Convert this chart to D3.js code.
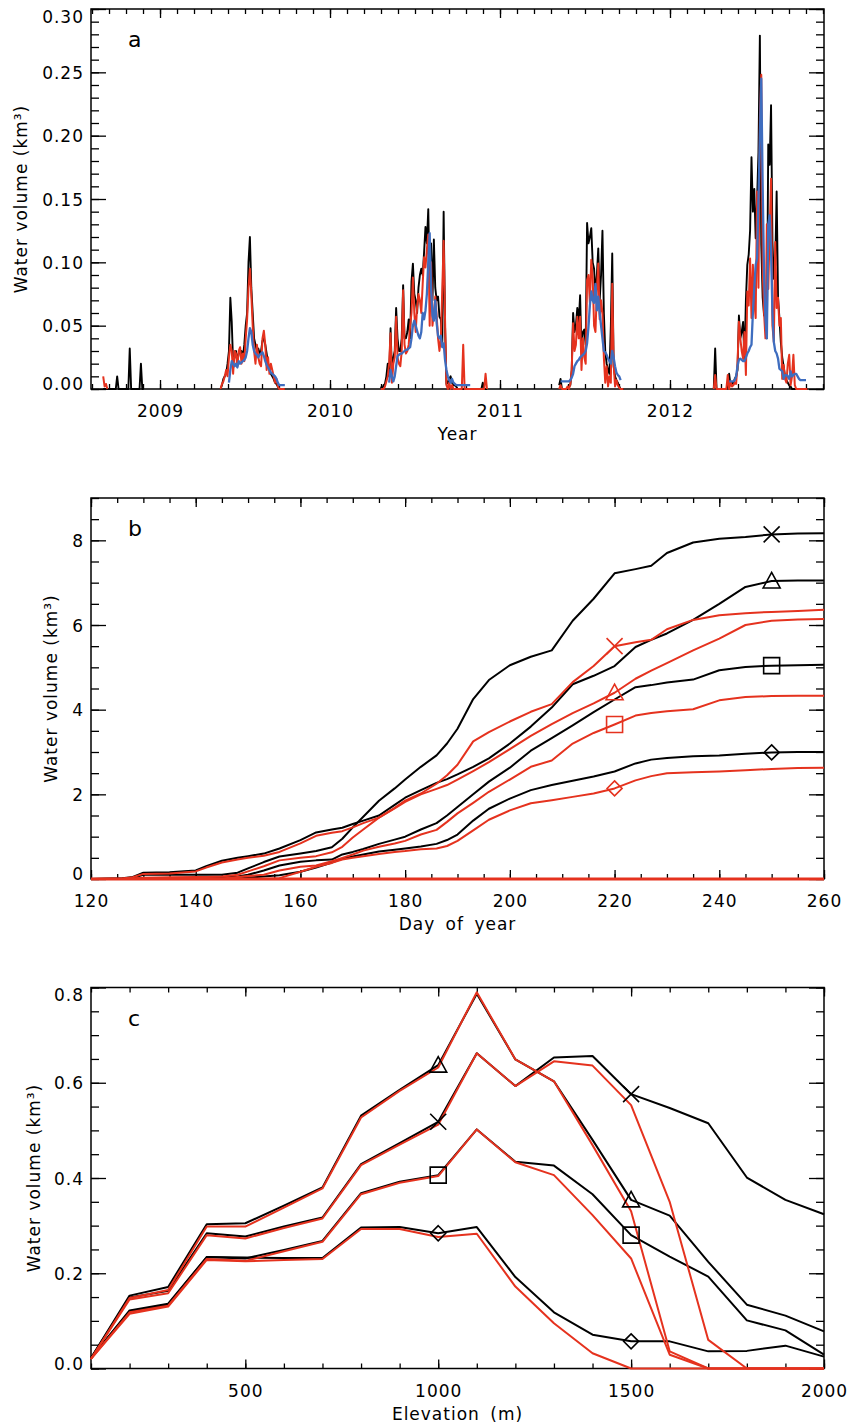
<!DOCTYPE html>
<html>
<head>
<meta charset="utf-8">
<script src="https://d3js.org/d3.v7.min.js"></script>
<style>
  body { margin: 0; background: #fff; }
  svg { display: block; }
  text { font-family: "DejaVu Sans", sans-serif; fill: #000; }
</style>
</head>
<body>
<svg width="847" height="1425"></svg>
<script>
// ---------- panel a: daily water volume, sampled every 3 days ----------
const seasonYear  = [2008, 2009, 2010, 2011, 2012];
const seasonStart = [244, 131, 110, 128, 95];   // day of year of the first sample
const sampleStep  = 3;

const black2008 = [0,0,0,0,0,0,0,0,0,0,0.01,0,0,0,0,0,0,0,0,0.032,0,0,0,0,0,0,0,0.02,0,0];
const red2008   = [0.01,0.002,0.004,0];
const blue2008  = [];

const black2009 = [0,0.003,0.008,0.01,0.012,0.02,0.03,0.072,0.053,0.02,
  0.025,0.03,0.022,0.028,0.03,0.03,0.025,0.035,0.05,0.06,
  0.1,0.12,0.08,0.06,0.04,0.035,0.03,0.032,0.028,0.03,
  0.038,0.04,0.035,0.028,0.02,0.015,0.012,0.01,0.008,0.005,
  0.004,0.002,0,0,0,0,0];
const red2009 = [0,0.004,0.006,0.01,0.015,0.01,0.025,0.035,0.03,0.012,
  0.03,0.028,0.018,0.03,0.033,0.02,0.028,0.022,0.04,0.055,
  0.08,0.095,0.075,0.05,0.03,0.02,0.035,0.025,0.02,0.018,
  0.04,0.046,0.035,0.015,0.025,0.012,0.02,0.015,0.01,0.005,
  0.008,0.002,0,0,0,0,0];
const blue2009 = [null,null,null,null,null,null,
  0.005,0.015,0.022,0.02,0.018,0.02,0.017,0.022,0.02,0.021,
  0.022,0.023,0.025,0.03,0.04,0.048,0.045,0.035,0.03,0.028,
  0.027,0.025,0.027,0.028,0.029,0.026,0.022,0.019,0.017,0.015,
  0.013,0.012,0.011,0.01,0.008,0.005,0.003,0.003,0.003,0.003,0.003];

const black2010 = [0.002,0,0.003,0.004,0.01,0.02,0.01,0.048,0.012,0.025,
  0.03,0.064,0.04,0.03,0.03,0.04,0.082,0.04,0.04,0.045,
  0.055,0.04,0.085,0.099,0.075,0.07,0.06,0.08,0.09,0.095,
  0.09,0.108,0.128,0.115,0.142,0.08,0.115,0.07,0.118,0.08,
  0.07,0.073,0.057,0.055,0.035,0.14,0.05,0.004,0.005,0.008,
  0.01,0.005,0.003,0.003,0.002,0,0,0,0,0,
  0,0,0,0,0,0,
  0,0,0,0,0,0,0,0.005,0,0,0];
const red2010 = [0,0,0,0.002,0.006,0.01,0.02,0.044,0.005,0.02,
  0.025,0.057,0.025,0.02,0.018,0.03,0.078,0.035,0.028,0.03,
  0.035,0.05,0.06,0.088,0.06,0.045,0.065,0.075,0.07,0.06,
  0.083,0.104,0.096,0.11,0.122,0.05,0.1,0.05,0.06,0.073,
  0.058,0.04,0.03,0.04,0.078,0.117,0.055,0.003,0,0.005,
  0,0.003,0,0,0,0,0,0,0,0.035,
  0,0,0,0,0,0,
  0,0,0,0,0,0,0,0,0,0.012,0];
const blue2010 = [null,null,null,null,null,null,
  0.005,0.015,0.01,0.006,0.01,0.018,0.026,0.027,0.028,0.028,
  0.029,0.03,0.031,0.031,0.032,0.033,0.04,0.05,0.054,0.05,
  0.046,0.042,0.04,0.045,0.06,0.055,0.062,0.075,0.1,0.123,
  0.08,0.058,0.054,0.07,0.052,0.042,0.04,0.042,0.033,0.036,
  0.023,0.015,0.01,0.007,0.005,0.008,0.005,0.004,0.003,0.003,
  0.003,0.003,0.003,0.003,0.003,0.003,0.003,0.003,0.003];

const black2011 = [0.003,0.008,0,0,0,0,0,0.002,0.003,0.015,
  0.06,0.045,0.05,0.064,0.052,0.074,0.03,0.045,0.047,0.035,
  0.131,0.115,0.12,0.127,0.1,0.095,0.075,0.09,0.111,0.07,
  0.09,0.125,0.06,0.03,0.02,0.015,0.012,0.05,0.107,0.018,
  0.01,0.007,0.005,0.002,0,0,0];
const red2011 = [0,0.003,0,0,0,0,0.002,0,0.004,0.015,
  0.052,0.03,0.035,0.057,0.04,0.057,0.015,0.04,0.025,0.02,
  0.086,0.09,0.068,0.102,0.088,0.05,0.045,0.078,0.099,0.055,
  0.07,0.06,0.025,0.005,0.018,0.002,0.01,0.005,0.083,0.02,
  0.002,0.007,0.003,0.001,0,0,0];
const blue2011 = [null,0.006,0.006,0.006,0.006,0.006,0.006,0.006,0.007,0.009,
  0.012,0.018,0.02,0.022,0.023,0.025,0.026,0.027,0.028,0.03,
  0.036,0.049,0.066,0.077,0.07,0.068,0.083,0.062,0.073,0.06,
  0.05,0.04,0.03,0.029,0.027,0.024,0.022,0.02,0.03,0.025,
  0.018,0.013,0.011,0.01,0.007];

const black2012 = [0,0.032,0,0,0,0,0,0,0,0,
  0.002,0.012,0.003,0.005,0.004,0.008,0.01,0.015,0.058,0.04,
  0.045,0.053,0.022,0.07,0.098,0.106,0.125,0.183,0.14,0.158,
  0.119,0.149,0.187,0.279,0.114,0.072,0.058,0.077,0.04,0.193,
  0.177,0.224,0.116,0.087,0.098,0.156,0.072,0.056,0.037,0.025,
  0.018,0.01,0.007,0.005,0.003,0.002,0,0,0,0,
  0,0,0,0,0,0,0,0];
const red2012 = [0,0.011,0,0,0,0,0,0,0,0,
  0.011,0,0.006,0.002,0.003,0.005,0.004,0.02,0.053,0.04,
  0.03,0.024,0.045,0.011,0.077,0.066,0.103,0.056,0.098,0.07,
  0.056,0.156,0.08,0.213,0.248,0.095,0.06,0.04,0.13,0.079,
  0.124,0.166,0.05,0.037,0.116,0.064,0.072,0.05,0.056,0.008,
  0.019,0.008,0.005,0.02,0.027,0.003,0.01,0.027,0.003,0,
  0,0,0,0,0,0,0,0];
const blue2012 = [null,null,null,null,null,null,null,null,null,null,null,
  0.006,0.006,0.006,0.006,0.007,0.01,0.018,0.023,0.024,0.023,
  0.022,0.022,0.025,0.028,0.03,0.033,0.035,
  0.06,0.08,0.098,0.103,0.15,0.2,0.245,0.16,0.09,0.055,
  0.04,0.13,0.137,0.11,0.06,0.037,0.03,0.028,0.024,0.016,
  0.015,0.014,0.008,0.011,0.011,0.01,0.008,0.014,0.01,0.011,
  0.012,0.012,0.01,0.008,0.007,0.007,0.007,0.007,0.007];

const blackA = [black2008, black2009, black2010, black2011, black2012];
const redA   = [red2008, red2009, red2010, red2011, red2012];
const blueA  = [blue2008, blue2009, blue2010, blue2011, blue2012];
const yearTicks = [2009, 2010, 2011, 2012];

// ---------- panel b: cumulative volume by day of year ----------
const dayB = [120,126,128,130,135,140,142,145,148,150,153,156,160,163,166,168,170,172,175,178,
  180,183,186,188,190,193,196,200,204,208,212,216,220,224,227,230,235,240,245,250,255,260];
const blackCross = [0,0.01,0.03,0.1,0.1,0.1,0.1,0.1,0.15,0.25,0.4,0.53,0.6,0.66,0.75,0.95,
  1.22,1.47,1.85,2.14,2.35,2.65,2.92,3.2,3.55,4.25,4.7,5.05,5.25,5.4,6.1,6.62,
  7.22,7.32,7.4,7.7,7.95,8.04,8.08,8.14,8.16,8.17];
const blackTri = [0,0.02,0.05,0.15,0.16,0.2,0.3,0.43,0.5,0.54,0.6,0.72,0.92,1.1,1.17,1.21,
  1.3,1.38,1.5,1.75,1.92,2.1,2.27,2.36,2.47,2.65,2.85,3.2,3.6,4.05,4.6,4.8,
  5.03,5.48,5.65,5.8,6.12,6.5,6.9,7.04,7.05,7.05];
const blackSq = [0,0,0.01,0.02,0.02,0.03,0.03,0.03,0.06,0.1,0.2,0.32,0.41,0.44,0.46,0.58,
  0.64,0.71,0.83,0.93,1.0,1.17,1.32,1.5,1.7,2.0,2.3,2.63,3.03,3.33,3.63,3.94,
  4.24,4.53,4.58,4.64,4.71,4.93,5.01,5.04,5.05,5.06];
const blackDia = [0,0,0,0,0,0,0,0,0.01,0.03,0.06,0.09,0.17,0.27,0.39,0.48,
  0.53,0.58,0.65,0.69,0.72,0.77,0.83,0.92,1.05,1.38,1.66,1.9,2.1,2.22,2.32,2.42,
  2.54,2.73,2.82,2.86,2.9,2.92,2.96,2.99,3.0,3.0];
const redCross = [0,0,0.01,0.03,0.04,0.05,0.05,0.06,0.1,0.18,0.3,0.44,0.5,0.54,0.63,0.76,
  0.98,1.17,1.45,1.68,1.85,2.02,2.25,2.45,2.7,3.25,3.47,3.72,3.95,4.13,4.65,5.03,
  5.5,5.59,5.65,5.9,6.12,6.23,6.28,6.31,6.33,6.36];
const redTri = [0,0.01,0.04,0.12,0.13,0.18,0.27,0.39,0.46,0.5,0.55,0.64,0.84,1.02,1.09,1.13,
  1.22,1.32,1.45,1.67,1.82,2.0,2.13,2.22,2.35,2.55,2.76,3.07,3.38,3.66,3.92,4.15,
  4.4,4.73,4.92,5.1,5.4,5.68,6.0,6.1,6.13,6.14];
const redSq = [0,0,0,0.01,0.01,0.01,0.01,0.01,0.05,0.07,0.1,0.2,0.29,0.32,0.42,0.5,
  0.58,0.67,0.76,0.84,0.9,1.05,1.16,1.35,1.55,1.8,2.06,2.35,2.65,2.8,3.2,3.45,
  3.65,3.86,3.92,3.96,4.01,4.22,4.3,4.32,4.33,4.33];
const redDia = [0,0,0,0,0,0,0,0,0,0,0,0.02,0.17,0.29,0.38,0.46,
  0.5,0.54,0.59,0.64,0.66,0.7,0.72,0.78,0.9,1.15,1.4,1.62,1.79,1.86,1.94,2.02,
  2.14,2.33,2.43,2.5,2.52,2.54,2.57,2.6,2.62,2.63];
const blackMarkDayB = 250, redMarkDayB = 220;

// ---------- panel c: volume by elevation band ----------
const elevC = [100,200,300,400,500,600,700,800,900,1000,1100,1200,1300,1400,1500,1600,1700,1800,1900,2000];
const cBlackTri   = [0.022,0.153,0.171,0.303,0.305,0.342,0.38,0.531,0.585,0.637,0.787,0.649,0.603,0.48,0.354,0.321,0.224,0.134,0.111,0.078];
const cBlackCross = [0.022,0.149,0.163,0.284,0.277,0.298,0.317,0.429,0.473,0.518,0.662,0.593,0.653,0.656,0.576,0.547,0.515,0.401,0.354,0.324];
const cBlackSq    = [0.022,0.122,0.136,0.234,0.231,0.249,0.268,0.368,0.392,0.406,0.502,0.434,0.426,0.366,0.28,0.235,0.193,0.101,0.08,0.029];
const cBlackDia   = [0.022,0.12,0.134,0.234,0.233,0.232,0.232,0.296,0.297,0.284,0.297,0.192,0.118,0.071,0.057,0.057,0.036,0.037,0.048,0.025];
const cRedTri     = [0.02,0.148,0.165,0.298,0.298,0.338,0.378,0.527,0.583,0.632,0.79,0.649,0.603,0.469,0.33,0.036,0,0,0,0];
const cRedCross   = [0.02,0.145,0.158,0.28,0.273,0.295,0.315,0.427,0.47,0.512,0.662,0.593,0.645,0.636,0.553,0.35,0.06,0,0,0];
const cRedSq      = [0.02,0.118,0.132,0.23,0.226,0.246,0.266,0.366,0.39,0.404,0.502,0.433,0.406,0.322,0.231,0.029,0,0,0,0];
const cRedDia     = [0.02,0.115,0.13,0.228,0.225,0.228,0.23,0.293,0.293,0.276,0.283,0.172,0.095,0.032,0,0,0,0,0,0];
const markElevC = [1000, 1500];

// ---------- layout ----------
const svg = d3.select("svg");
const L = 91, R = 824;
const RED = "#e5321e", BLUE = "#3e6dbf";
const FS = 17;

function markerPath(type) {
  if (type === "x") return "M-8,-8L8,8M-8,8L8,-8";
  if (type === "tri") return "M0,-8.5L8.5,7L-8.5,7Z";
  if (type === "sq") return "M-8,-8H8V8H-8Z";
  return "M0,-7.5L7.5,0L0,7.5L-7.5,0Z";
}

function frame(x, y, top, bottom, o) {
  const g = svg.append("g");
  g.append("rect").attr("x", L).attr("y", top).attr("width", R - L).attr("height", bottom - top)
    .attr("fill", "none").attr("stroke", "#000").attr("stroke-width", 1.5);
  const [y0, y1] = y.domain();
  const style = sel => {
    sel.select(".domain").remove();
    sel.selectAll(".tick line").attr("stroke", "#000").attr("stroke-width", 1.3);
    sel.selectAll("text").attr("font-size", FS).attr("letter-spacing", 1)
      .attr("font-family", "DejaVu Sans, sans-serif").attr("fill", "#000");
  };
  // bottom
  g.append("g").attr("transform", `translate(0,${bottom})`)
    .call(d3.axisBottom(x).tickValues(o.xMinor).tickSize(-5).tickFormat("")).call(style);
  g.append("g").attr("transform", `translate(0,${bottom})`)
    .call(d3.axisBottom(x).tickValues(o.xMajor).tickSize(-9).tickFormat(o.xFmt)).call(style)
    .selectAll("text").attr("y", 28).attr("dy", 0);
  // top
  g.append("g").attr("transform", `translate(0,${top})`)
    .call(d3.axisTop(x).tickValues(o.xMinor).tickSize(-5).tickFormat("")).call(style);
  g.append("g").attr("transform", `translate(0,${top})`)
    .call(d3.axisTop(x).tickValues(o.xMajor).tickSize(-9).tickFormat("")).call(style);
  // left
  g.append("g").attr("transform", `translate(${L},0)`)
    .call(d3.axisLeft(y).tickValues(o.yMinor).tickSize(-8).tickFormat("")).call(style);
  g.append("g").attr("transform", `translate(${L},0)`)
    .call(d3.axisLeft(y).tickValues(o.yMajor).tickSize(-15).tickPadding(7).tickFormat(o.yFmt)).call(style)
    .selectAll("text").attr("dy", 0)
    .attr("y", d => Math.abs(d - y1) < 1e-9 ? 13 : (Math.abs(d - y0) < 1e-9 ? 0.5 : 6));
  // right
  g.append("g").attr("transform", `translate(${R},0)`)
    .call(d3.axisRight(y).tickValues(o.yMinor).tickSize(-8).tickFormat("")).call(style);
  g.append("g").attr("transform", `translate(${R},0)`)
    .call(d3.axisRight(y).tickValues(o.yMajor).tickSize(-15).tickFormat("")).call(style);
  // titles
  g.append("text").attr("x", (L + R) / 2).attr("y", bottom + 51).attr("text-anchor", "middle")
    .attr("font-size", FS).attr("letter-spacing", 1).attr("word-spacing", 4).text(o.xTitle);
  g.append("text").attr("transform", `translate(${o.yTitleX},${(top + bottom) / 2}) rotate(-90)`)
    .attr("text-anchor", "middle").attr("font-size", FS).attr("letter-spacing", 1)
    .text("Water volume (km³)");
  g.append("text").attr("x", 128).attr("y", top + 38).attr("font-size", 22).text(o.letter);
}

function drawLine(g, pts, color, width) {
  g.append("path").datum(pts)
    .attr("fill", "none").attr("stroke", color).attr("stroke-width", width)
    .attr("stroke-linejoin", "round")
    .attr("d", d3.line().defined(d => d.v != null).x(d => d.sx).y(d => d.sy));
}

// ---------- panel a ----------
{
  const top = 9, bottom = 389;
  const x = d3.scaleLinear().domain([2008.594, 2012.906]).range([L, R]);
  const y = d3.scaleLinear().domain([0, 0.30]).range([bottom, top]);
  frame(x, y, top, bottom, {
    xMajor: yearTicks, xMinor: d3.range(2008.6, 2012.95, 0.1), xFmt: d3.format("d"),
    yMajor: d3.range(0, 0.301, 0.05), yMinor: d3.range(0, 0.301, 0.01), yFmt: d3.format(".2f"),
    xTitle: "Year", yTitleX: 27, letter: "a"
  });
  const g = svg.append("g");
  const pts = (k, vals) => vals.map((v, i) => {
    const t = seasonYear[k] + (seasonStart[k] + sampleStep * i - 1) / 365;
    return { v, sx: x(t), sy: v == null ? 0 : y(v) };
  });
  blackA.forEach((s, k) => drawLine(g, pts(k, s), "#000", 1.9));
  redA.forEach((s, k) => drawLine(g, pts(k, s), RED, 2));
  blueA.forEach((s, k) => drawLine(g, pts(k, s), BLUE, 2.3));
}

// ---------- panel b ----------
{
  const top = 498, bottom = 879;
  const x = d3.scaleLinear().domain([120, 260]).range([L, R]);
  const y = d3.scaleLinear().domain([0, 9]).range([bottom, top]);
  frame(x, y, top, bottom, {
    xMajor: d3.range(120, 261, 20), xMinor: d3.range(120, 261, 5), xFmt: d3.format("d"),
    yMajor: [0, 2, 4, 6, 8], yMinor: d3.range(0, 9.01, 0.5), yFmt: d3.format("d"),
    xTitle: "Day of year", yTitleX: 57, letter: "b"
  });
  const g = svg.append("g");
  const pts = vals => vals.map((v, i) => ({ v, sx: x(dayB[i]), sy: y(v) }));
  const blacks = [[blackCross, "x"], [blackTri, "tri"], [blackSq, "sq"], [blackDia, "dia"]];
  const reds = [[redCross, "x"], [redTri, "tri"], [redSq, "sq"], [redDia, "dia"]];
  blacks.forEach(([s]) => drawLine(g, pts(s), "#000", 2));
  reds.forEach(([s]) => drawLine(g, pts(s), RED, 2));
  g.append("line").attr("x1", x(120)).attr("x2", x(260)).attr("y1", y(0)).attr("y2", y(0))
    .attr("stroke", RED).attr("stroke-width", 3);
  const ib = dayB.indexOf(blackMarkDayB), ir = dayB.indexOf(redMarkDayB);
  blacks.forEach(([s, m]) => g.append("path").attr("d", markerPath(m))
    .attr("transform", `translate(${x(blackMarkDayB)},${y(s[ib])})`)
    .attr("fill", "none").attr("stroke", "#000").attr("stroke-width", 1.6));
  reds.forEach(([s, m]) => g.append("path").attr("d", markerPath(m))
    .attr("transform", `translate(${x(redMarkDayB)},${y(s[ir])})`)
    .attr("fill", "none").attr("stroke", RED).attr("stroke-width", 1.6));
}

// ---------- panel c ----------
{
  const top = 987.5, bottom = 1368.5;
  const x = d3.scaleLinear().domain([100, 2000]).range([L, R]);
  const y = d3.scaleLinear().domain([0, 0.8]).range([bottom, top]);
  frame(x, y, top, bottom, {
    xMajor: [500, 1000, 1500, 2000], xMinor: d3.range(100, 2001, 100), xFmt: d3.format("d"),
    yMajor: d3.range(0, 0.81, 0.2), yMinor: d3.range(0, 0.81, 0.05), yFmt: d3.format(".1f"),
    xTitle: "Elevation (m)", yTitleX: 40, letter: "c"
  });
  const g = svg.append("g");
  const pts = vals => vals.map((v, i) => ({ v, sx: x(elevC[i]), sy: y(v) }));
  const blacks = [[cBlackTri, "tri"], [cBlackCross, "x"], [cBlackSq, "sq"], [cBlackDia, "dia"]];
  const reds = [cRedTri, cRedCross, cRedSq, cRedDia];
  blacks.forEach(([s]) => drawLine(g, pts(s), "#000", 2));
  reds.forEach(s => drawLine(g, pts(s), RED, 2));
  markElevC.forEach(e => {
    const i = elevC.indexOf(e);
    blacks.forEach(([s, m]) => g.append("path").attr("d", markerPath(m))
      .attr("transform", `translate(${x(e)},${y(s[i])})`)
      .attr("fill", "none").attr("stroke", "#000").attr("stroke-width", 1.6));
  });
}
</script>
</body>
</html>
